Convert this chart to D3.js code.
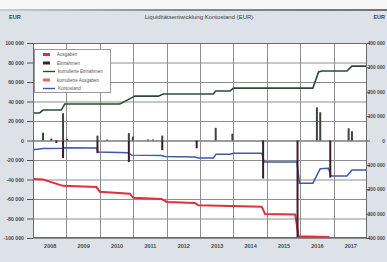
<!DOCTYPE html>
<html>
<head>
<meta charset="utf-8">
<script src="https://cdn.jsdelivr.net/npm/d3@7"></script>
<style>
  body { margin: 0; background: #dde2e9; }
  svg { display: block; font-family: "Liberation Sans", Arial, sans-serif; }
</style>
</head>
<body>
<script>
'use strict';

// x axis categories (one band per year)
const years = [2008, 2009, 2010, 2011, 2012, 2013, 2014, 2015, 2016, 2017];

// axis ticks
const leftTicks = d3.range(-100000, 100001, 20000);
const rightTicks = d3.range(-400000, 400001, 100000);

// cumulative series, right axis: [decimal year, value]
const cumIncome = [
  [2008.0, 113000], [2008.2, 113000], [2008.3, 125000], [2008.85, 125000],
  [2008.95, 150000], [2010.6, 150000], [2010.95, 175000], [2011.05, 182000],
  [2011.75, 182000], [2011.9, 191000], [2013.4, 191000], [2013.47, 203000],
  [2013.9, 203000], [2014.0, 215000], [2016.38, 215000], [2016.55, 281000],
  [2016.65, 285000], [2017.4, 285000], [2017.55, 305000], [2018.0, 305000]
];

const cumExpense = [
  [2008.0, -158000], [2008.3, -160000], [2008.9, -186000], [2009.9, -191000],
  [2010.0, -210000], [2010.9, -218000], [2011.0, -235000], [2011.85, -240000],
  [2012.0, -252000], [2012.85, -256000], [2012.95, -266000], [2014.85, -272000],
  [2014.95, -302000], [2015.85, -304000], [2015.95, -393000], [2016.85, -396000],
  [2016.92, -432000], [2018.0, -434000]
];

const balance = [
  [2008.0, -38000], [2008.3, -33000], [2008.9, -32000], [2008.95, -30000],
  [2009.9, -31000], [2009.95, -47000], [2010.85, -50000], [2010.95, -60000],
  [2011.85, -62000], [2011.95, -66000], [2012.85, -68000], [2012.95, -72000],
  [2013.4, -72000], [2013.48, -56000], [2013.9, -56000], [2014.0, -52000],
  [2014.85, -52000], [2014.92, -88000], [2015.9, -88000], [2015.98, -175000],
  [2016.38, -175000], [2016.6, -116000], [2016.85, -114000], [2016.92, -146000],
  [2017.4, -146000], [2017.55, -121000], [2018.0, -121000]
];

// single bookings, left axis: [decimal year, value]
const bookings = [
  [2008.3, 8000], [2008.55, 2000], [2008.7, -2500], [2008.9, 28000], [2008.9, -18000],
  [2009.02, 1500], [2009.93, 5000], [2009.93, -13000], [2010.22, 1000],
  [2010.87, 7500], [2010.87, -22000], [2010.99, 4000], [2011.44, 1000], [2011.59, 1000],
  [2011.87, 5000], [2011.87, -10000], [2012.9, -8000], [2013.47, 13000], [2013.97, 7000],
  [2014.89, -39000], [2015.92, -100000], [2016.5, 34000], [2016.6, 29000],
  [2016.9, -38000], [2017.45, 12500], [2017.55, 9500]
];

const legendLabels = ['Ausgaben', 'Einnahmen', 'kumulierte Einnahmen', 'kumulierte Ausgaben', 'Kontostand'];

const W = 387, H = 262;
const plot = { left: 33, right: 367, top: 43, bottom: 238 };

const svg = d3.select('body').append('svg')
  .attr('width', W)
  .attr('height', H);

// photo-like frame on top
svg.append('rect').attr('width', W).attr('height', H).attr('fill', '#dde2e9');
svg.append('rect').attr('width', W).attr('height', 9).attr('fill', '#f6f7f8');
let grad = svg.append('defs').append('linearGradient').attr('id', 'edge');
grad.append('stop').attr('offset', '0%').attr('stop-color', '#c9cdd2');
grad.append('stop').attr('offset', '40%').attr('stop-color', '#8b9096');
grad.append('stop').attr('offset', '100%').attr('stop-color', '#6d7278');
svg.append('rect').attr('y', 9).attr('width', W).attr('height', 2).attr('fill', 'url(#edge)');

svg.select('defs').append('clipPath').attr('id', 'clip')
  .append('rect')
  .attr('x', plot.left).attr('y', plot.top)
  .attr('width', plot.right - plot.left).attr('height', plot.bottom - plot.top);

// scales
let x = d3.scaleLinear().domain([2008, 2018]).range([plot.left, plot.right]);
let yL = d3.scaleLinear().domain([-100000, 100000]).range([plot.bottom, plot.top]);
let yR = d3.scaleLinear().domain([-400000, 400000]).range([plot.bottom, plot.top]);

let fmt = (d) => d3.format(',')(d).replace(/,/g, ' ').replace('−', '-');

// plot background
svg.append('rect')
  .attr('x', plot.left).attr('y', plot.top)
  .attr('width', plot.right - plot.left).attr('height', plot.bottom - plot.top)
  .attr('fill', '#ffffff');

// horizontal grid (left axis)
svg.append('g')
  .selectAll('line')
  .data(leftTicks)
  .enter()
  .append('line')
  .attr('x1', plot.left).attr('x2', plot.right)
  .attr('y1', (d) => yL(d) + 0.5).attr('y2', (d) => yL(d) + 0.5)
  .attr('stroke', (d) => d === 0 ? '#3a3a3a' : '#8e8e8e')
  .attr('stroke-width', 1);

// vertical grid at year boundaries
svg.append('g')
  .selectAll('line')
  .data(d3.range(2009, 2018))
  .enter()
  .append('line')
  .attr('x1', (d) => Math.round(x(d)) + 0.5).attr('x2', (d) => Math.round(x(d)) + 0.5)
  .attr('y1', plot.top).attr('y2', plot.bottom)
  .attr('stroke', '#8e8e8e');

// left axis
let leftAxis = d3.axisLeft(yL).tickValues(leftTicks).tickSize(6).tickPadding(3).tickFormat(fmt);
let gl = svg.append('g')
  .attr('transform', 'translate(' + plot.left + ',0)')
  .call(leftAxis);

// right axis
let rightAxis = d3.axisRight(yR).tickValues(rightTicks).tickSize(3).tickPadding(1).tickFormat(fmt);
let gr = svg.append('g')
  .attr('transform', 'translate(' + plot.right + ',0)')
  .call(rightAxis);

[gl, gr].forEach((g) => {
  g.select('.domain').remove();
  g.selectAll('.tick line').attr('stroke', '#555');
  g.selectAll('.tick text')
    .attr('fill', '#4a4a4a')
    .style('font-size', '5.2px')
    .style('font-weight', 'bold');
});

// keep right labels inside the window
gr.selectAll('.tick text')
  .attr('x', W - 2 - plot.right)
  .attr('text-anchor', 'end')
  .style('font-size', '4.8px');

// x axis labels centred in each year band
let xAxis = d3.axisBottom(x)
  .tickValues(years.map((y) => y + 0.5))
  .tickSize(0)
  .tickPadding(6)
  .tickFormat((d) => String(Math.floor(d)));
let gx = svg.append('g')
  .attr('transform', 'translate(0,' + plot.bottom + ')')
  .call(xAxis);
gx.select('.domain').remove();
gx.selectAll('.tick text')
  .attr('fill', '#4a4a4a')
  .style('font-size', '5.5px')
  .style('font-weight', 'bold');

// series
let chart = svg.append('g').attr('clip-path', 'url(#clip)');
let lineR = d3.line().x((d) => x(d[0])).y((d) => yR(d[1]));

chart.append('path').datum(cumExpense)
  .attr('d', lineR).attr('fill', 'none')
  .attr('stroke', '#e0303e').attr('stroke-width', 2);

chart.append('path').datum(cumIncome)
  .attr('d', lineR).attr('fill', 'none')
  .attr('stroke', '#2c4a34').attr('stroke-width', 1.6);

chart.append('path').datum(balance)
  .attr('d', lineR).attr('fill', 'none')
  .attr('stroke', '#3f58a8').attr('stroke-width', 1.5);

chart.selectAll('.bar')
  .data(bookings)
  .enter()
  .append('rect')
  .attr('class', 'bar')
  .attr('x', (d) => x(d[0]) - 1)
  .attr('width', 2)
  .attr('y', (d) => yL(Math.max(0, d[1])))
  .attr('height', (d) => Math.abs(yL(d[1]) - yL(0)))
  .attr('fill', (d) => d[1] < 0 ? '#3c1d26' : '#3b473c');

// plot border
svg.append('rect')
  .attr('x', plot.left + 0.5).attr('y', plot.top + 0.5)
  .attr('width', plot.right - plot.left - 1).attr('height', plot.bottom - plot.top - 1)
  .attr('fill', 'none').attr('stroke', '#6a6a6a');

// title and unit labels
svg.append('text')
  .attr('x', 199).attr('y', 19)
  .attr('text-anchor', 'middle')
  .attr('fill', '#3c3c3c')
  .style('font-size', '6px')
  .text('Liquiditätsentwicklung Kontostand (EUR)');

svg.append('text')
  .attr('x', 9).attr('y', 19)
  .attr('fill', '#3c3c3c')
  .style('font-size', '5.5px')
  .style('font-weight', 'bold')
  .text('EUR');

svg.append('text')
  .attr('x', 385).attr('y', 19)
  .attr('text-anchor', 'end')
  .attr('fill', '#3c3c3c')
  .style('font-size', '5.5px')
  .style('font-weight', 'bold')
  .text('EUR');

// legend
let legend = svg.append('g');
legend.append('rect')
  .attr('x', 34.5).attr('y', 49.5)
  .attr('width', 76).attr('height', 43)
  .attr('fill', '#ffffff').attr('stroke', '#9a9a9a');

let swatches = [
  { color: '#e0303e', kind: 'box' },
  { color: '#2a2a2a', kind: 'box' },
  { color: '#2c4a34', kind: 'line' },
  { color: '#f06070', kind: 'box' },
  { color: '#3f58a8', kind: 'line' }
];

let items = legend.selectAll('.item')
  .data(legendLabels)
  .enter()
  .append('g')
  .attr('class', 'item')
  .attr('transform', (d, i) => 'translate(43,' + (54.5 + i * 8.5) + ')');

items.append('rect')
  .attr('x', 0)
  .attr('y', (d, i) => swatches[i].kind === 'box' ? -1.5 : -0.7)
  .attr('width', (d, i) => swatches[i].kind === 'box' ? 7 : 12)
  .attr('height', (d, i) => swatches[i].kind === 'box' ? 3 : 1.4)
  .attr('fill', (d, i) => swatches[i].color);

items.append('text')
  .attr('x', (d, i) => swatches[i].kind === 'box' ? 14 : 15)
  .attr('y', 1.6)
  .attr('fill', '#555')
  .style('font-size', '4.5px')
  .text((d) => d);
</script>
</body>
</html>
